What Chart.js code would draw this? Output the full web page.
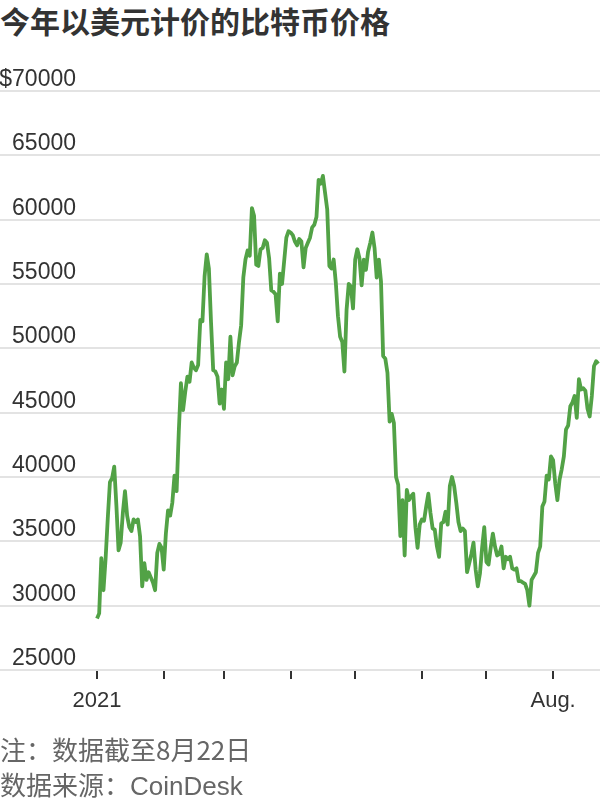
<!DOCTYPE html>
<html>
<head>
<meta charset="utf-8">
<script src="https://cdn.jsdelivr.net/npm/chart.js@4"></script>
<style>
  body { margin: 0; width: 600px; height: 800px; background: #fff; position: relative; overflow: hidden; }
  #title { position: absolute; left: 0; top: 3px; font: bold 30px "Noto Sans CJK SC", sans-serif; color: #333; line-height: 34px; white-space: nowrap; }
  #chartWrap { position: absolute; left: 0; top: 40px; width: 600px; height: 700px; }
  .note { position: absolute; left: 0; font: 26px "Noto Sans CJK SC", sans-serif; color: #666; line-height: 30px; white-space: nowrap; }
  .note .lat { font-family: "Liberation Sans", sans-serif; }
</style>
</head>
<body>
<div id="title">今年以美元计价的比特币价格</div>
<div id="chartWrap"><canvas id="btcChart" width="600" height="700"></canvas></div>
<div class="note" style="top:734px">注：数据截至8月22日</div>
<div class="note" style="top:769px">数据来源：<span class="lat">CoinDesk</span></div>
<script>
// daily prices, USD (Jan 1 - Aug 22)
const jan = [29000, 29400, 33700, 31200, 33700, 36800, 39600, 39900, 40800, 37800, 34300, 34900, 37200, 38900, 37000, 36100, 35800, 36700, 36500, 36700, 35400, 31500, 33300, 32000, 32600, 32200, 31800, 31200, 34100, 34800, 34500];
const feb = [32800, 35600, 37400, 37000, 38000, 40100, 38900, 43500, 47300, 45200, 46600, 47800, 47400, 48900, 48500, 48300, 48700, 52200, 52100, 55600, 57300, 56200, 52000, 48300, 48200, 47800, 45700, 46800];
const mar = [45300, 48900, 47600, 50900, 47900, 48600, 48900, 50500, 51800, 55500, 56900, 57600, 57200, 60900, 60300, 56500, 56400, 57700, 57800, 58400, 58200, 57000, 54500, 54400, 54200, 52100, 55800, 55000, 56800, 58600, 59100];
const apr = [59000, 58800, 58300, 58000, 58500, 58300, 56300, 57800, 58200, 58600, 59400, 59600, 60200, 63100, 62800, 63400, 62100, 60800, 56400, 56200, 56900, 55100, 52500, 50900, 50500, 48200, 53000, 55000, 54800, 53100];
const may = [56900, 57700, 57000, 54900, 56900, 56100, 57500, 58200, 59000, 57800, 55500, 56900, 55200, 49400, 49200, 48100, 44300, 44900, 44200, 40000, 39400, 35400, 38200, 33900, 39000, 38200, 38500, 38700, 36100, 34500, 36300];
const jun = [36700, 36600, 37700, 38700, 37200, 36000, 35900, 34600, 33800, 36400, 36500, 37300, 36300, 39300, 40000, 39300, 38000, 36500, 35800, 36000, 35800, 32600, 33300, 34000, 34900, 32800, 31500, 32500, 34500, 36100];
const jul = [33400, 33200, 34500, 35600, 34600, 33900, 34000, 34600, 32900, 33800, 33600, 33800, 32900, 32800, 32900, 31900, 31900, 31800, 31700, 31200, 30000, 32000, 32300, 32600, 34100, 34600, 37700, 38100, 40100, 39800, 41600];
const aug = [41300, 39500, 38200, 39800, 40600, 41600, 43700, 44000, 45500, 45800, 46300, 44600, 47600, 46800, 46900, 46700, 45300, 44700, 46300, 48600, 49000, 48800];

const prices = [...jan, ...feb, ...mar, ...apr, ...may, ...jun, ...jul, ...aug];

// day index of the first of each month, and their labels
const monthStarts = [0, 31, 59, 90, 120, 151, 181, 212];
const monthLabels = ["2021", "", "", "", "", "", "", "Aug."];

const yTicks = [25000, 30000, 35000, 40000, 45000, 50000, 55000, 60000, 65000, 70000];
const yTickLabels = ["25000", "30000", "35000", "40000", "45000", "50000", "55000", "60000", "65000", "$70000"];

const tickFont = '"Liberation Sans", sans-serif';

// y labels sit above their grid lines, at the left edge
const yLabelPlugin = {
  id: "yLabels",
  afterDraw(chart) {
    const ctx = chart.ctx;
    const y = chart.scales.y;
    ctx.save();
    ctx.font = "23px " + tickFont;
    ctx.fillStyle = "#333";
    ctx.textAlign = "right";
    ctx.textBaseline = "alphabetic";
    yTicks.forEach((v, i) => {
      ctx.fillText(yTickLabels[i], 76, y.getPixelForValue(v) - 5);
    });
    ctx.restore();
  }
};

const ctx = document.getElementById("btcChart").getContext("2d");
new Chart(ctx, {
  type: "line",
  data: {
    datasets: [{
      data: prices.map((v, i) => ({ x: i, y: v })),
      borderColor: "#52a246",
      borderWidth: 3.8,
      borderJoinStyle: "round",
      pointRadius: 0,
      tension: 0,
      fill: false
    }]
  },
  options: {
    responsive: false,
    animation: false,
    devicePixelRatio: 1,
    layout: { padding: { top: 51, bottom: 0, left: 0, right: 0 } },
    plugins: { legend: { display: false }, tooltip: { enabled: false } },
    scales: {
      x: {
        type: "linear",
        min: -45.1,
        max: 233.8,
        afterBuildTicks: (scale) => { scale.ticks = monthStarts.map(v => ({ value: v })); },
        afterFit: (scale) => { scale.height = 70; },
        ticks: {
          autoSkip: false,
          maxRotation: 0,
          padding: 9,
          color: "#333",
          font: { size: 22, family: tickFont },
          callback: (v, i) => monthLabels[i]
        },
        grid: { drawOnChartArea: false, drawTicks: true, tickLength: 9, color: "#333", lineWidth: 2 },
        border: { display: false }
      },
      y: {
        min: 25000,
        max: 70000,
        afterBuildTicks: (scale) => { scale.ticks = yTicks.map(v => ({ value: v })); },
        ticks: { display: false },
        grid: { color: "#e3e3e3", lineWidth: 2, drawTicks: false },
        border: { display: false }
      }
    }
  },
  plugins: [yLabelPlugin]
});
</script>
</body>
</html>
